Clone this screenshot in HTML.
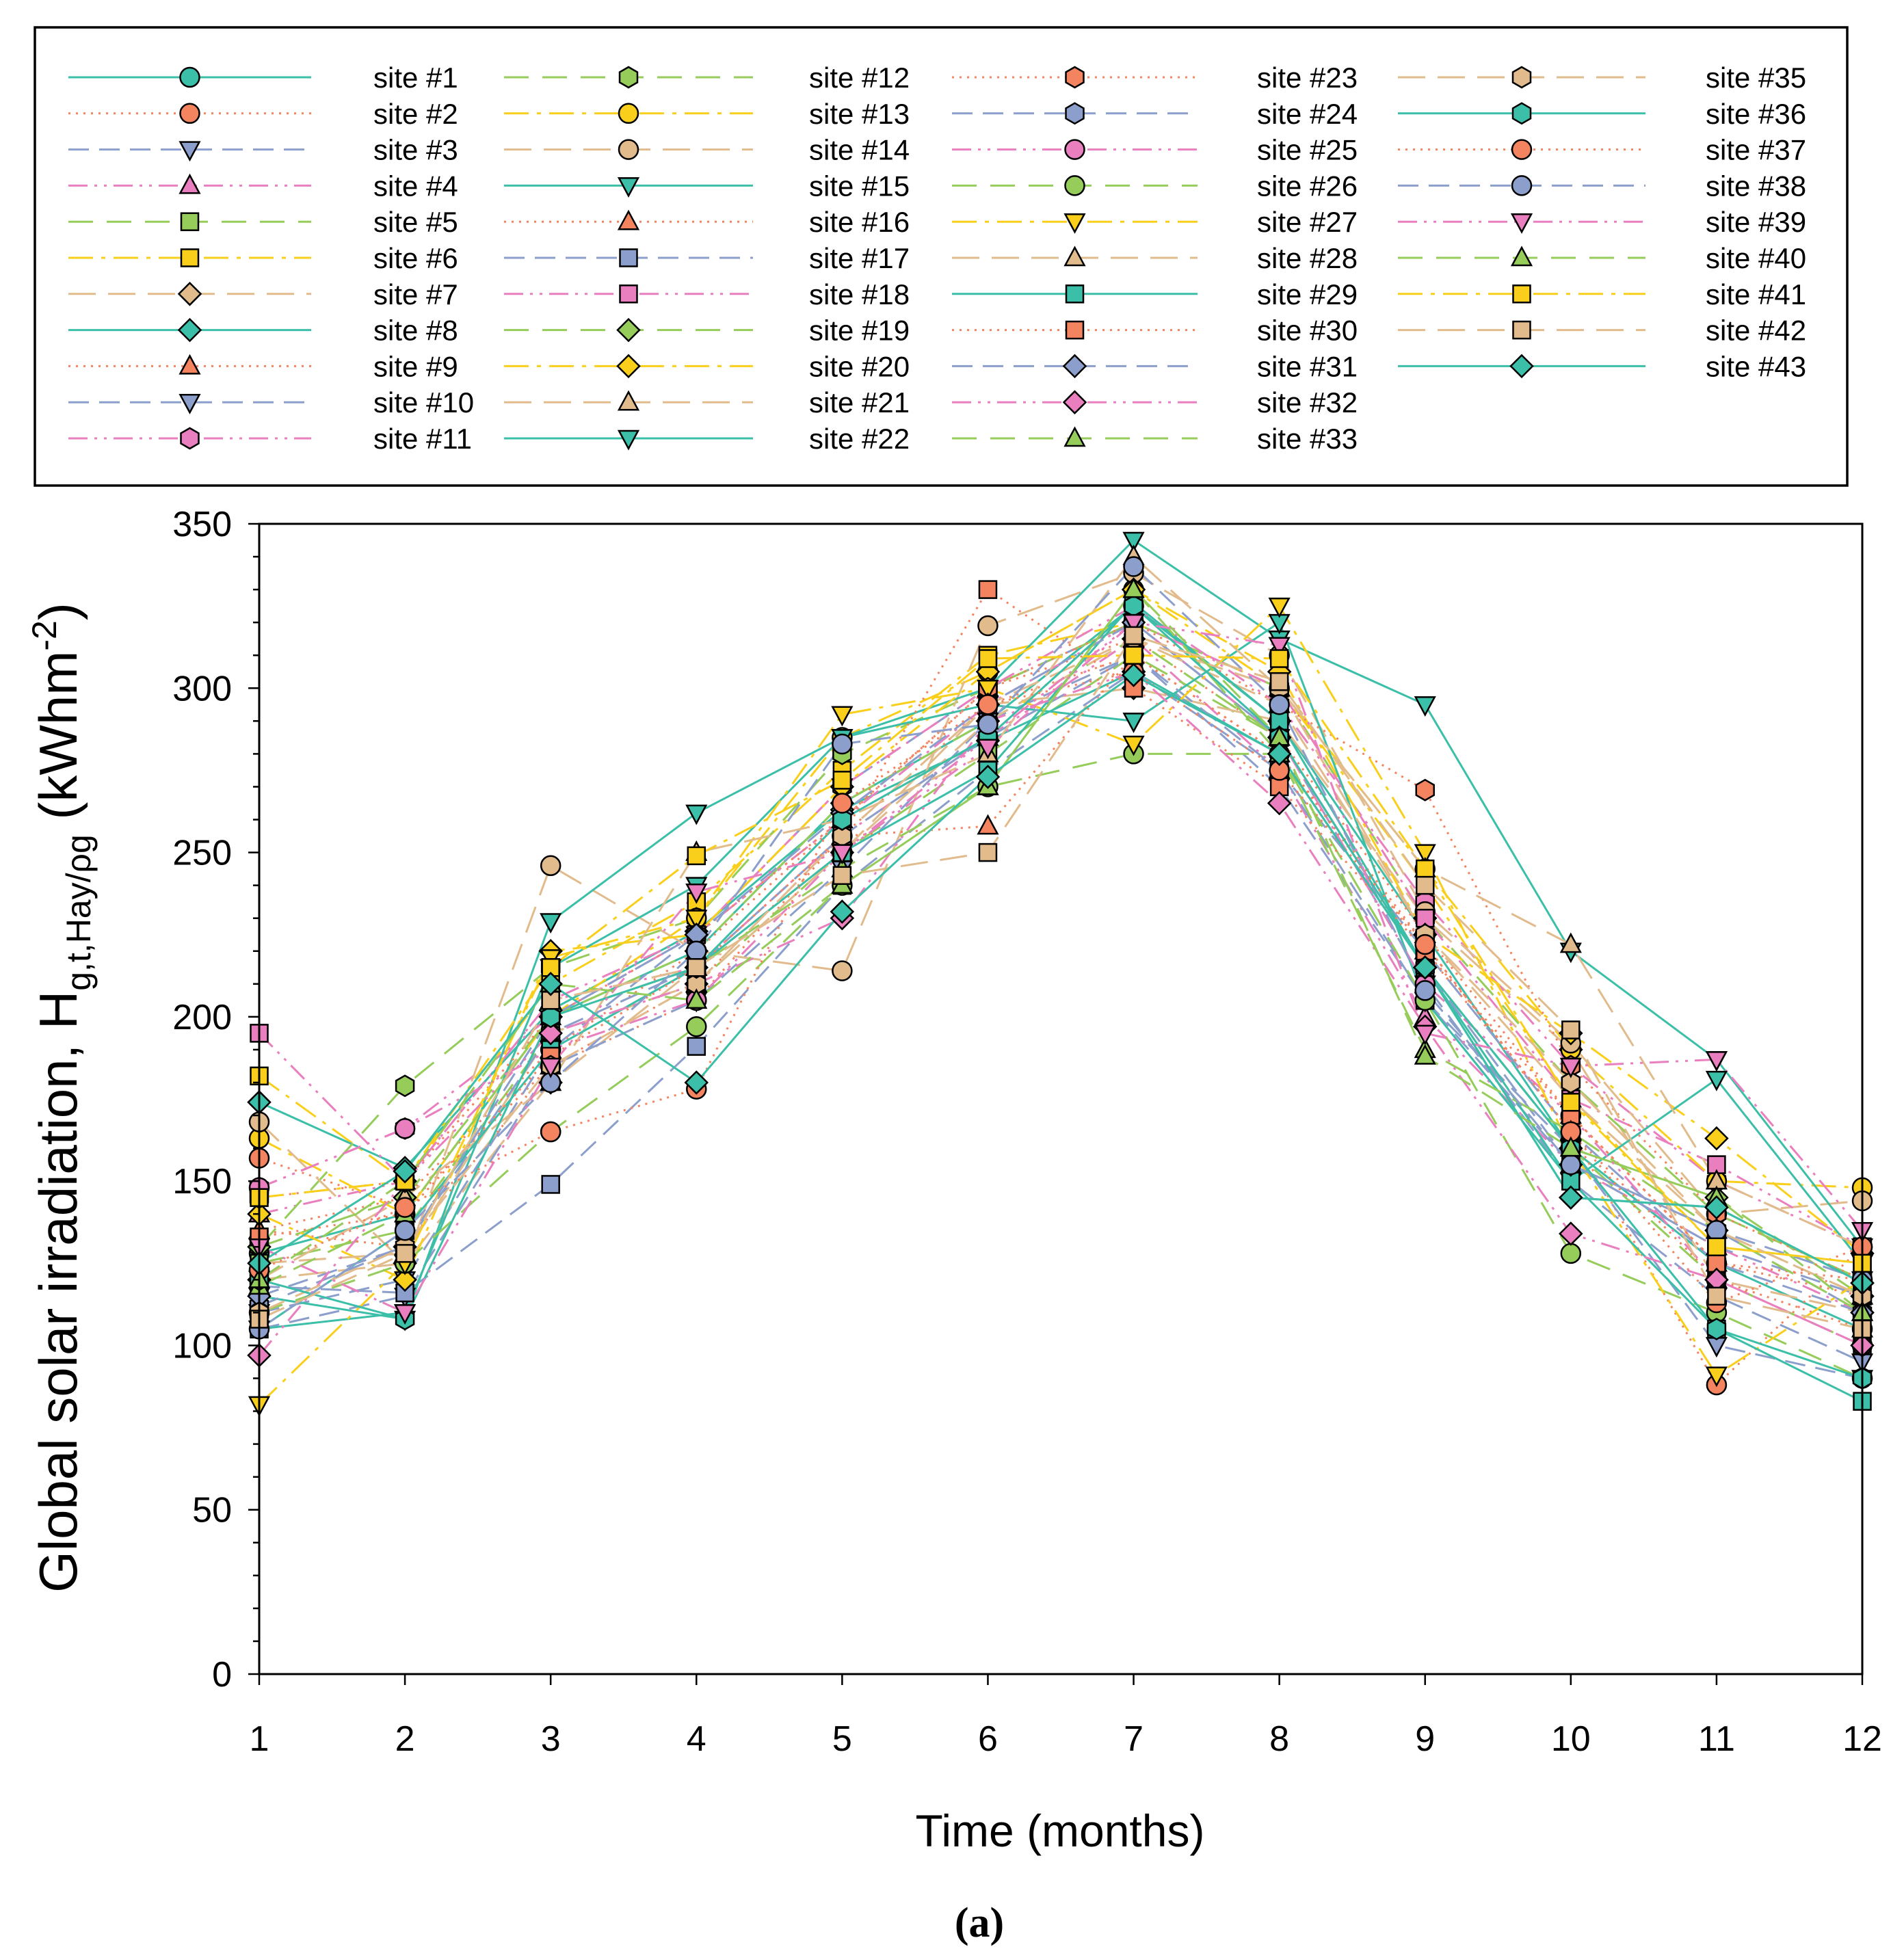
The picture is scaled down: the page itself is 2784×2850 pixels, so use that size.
<!DOCTYPE html>
<html><head><meta charset="utf-8">
<style>
html,body{margin:0;padding:0;background:#fff;}
svg{display:block;font-family:"Liberation Sans",sans-serif;}
</style></head>
<body>
<svg id="chart" width="2784" height="2850" viewBox="0 0 2784 2850" xmlns="http://www.w3.org/2000/svg">
<rect x="0" y="0" width="2784" height="2850" fill="#fff"/>
<rect x="51" y="40" width="2650" height="670" fill="none" stroke="#000" stroke-width="3.5"/>
<g id="legend"></g>
<g id="plot"></g>
<g id="axes"></g>
<text x="1550" y="2700" font-size="66" text-anchor="middle">Time (months)</text>
<text transform="translate(112,1605) rotate(-90)" font-size="78" text-anchor="middle">Global solar irradiation, H<tspan font-size="50" dy="20">g,t,Hay/ρg</tspan><tspan dy="-20"> (kWhm</tspan><tspan font-size="50" dy="-30">-2</tspan><tspan dy="30">)</tspan></text>
<text x="1432" y="2832" font-size="62" font-weight="bold" text-anchor="middle" font-family="Liberation Serif, serif">(a)</text>
</svg>
<script>
const months = [1,2,3,4,5,6,7,8,9,10,11,12];
const yTicks = [0,50,100,150,200,250,300,350];
const siteNames = [1,2,3,4,5,6,7,8,9,10,11,12,13,14,15,16,17,18,19,20,21,22,23,24,25,26,27,28,29,30,31,32,33,35,36,37,38,39,40,41,42,43];
const siteMarkers = ["circle","circle","tridown","triup","square","square","diamond","diamond","triup","tridown","hex","hex","circle","circle","tridown","triup","square","square","diamond","diamond","triup","tridown","hex","hex","circle","circle","tridown","triup","square","square","diamond","diamond","triup","hex","hex","circle","circle","tridown","triup","square","square","diamond"];
const s1=[128,140,200,220,265,290,325,290,225,160,125,105];
const s2=[157,142,185,205,255,295,310,280,222,165,88,130];
const s3=[110,120,190,225,270,300,320,285,210,150,115,95];
const s4=[140,150,205,215,255,285,315,275,200,155,130,110];
const s5=[125,135,195,210,250,280,310,285,215,160,120,100];
const s6=[182,150,210,235,275,310,320,300,240,175,130,125];
const s7=[120,125,180,215,250,295,300,290,230,190,120,110];
const s8=[174,154,202,226,263,284,305,280,215,145,142,119];
const s9=[135,145,190,220,260,300,315,285,225,170,125,115];
const s10=[105,115,185,205,245,290,310,270,205,160,100,90];
const s11=[148,166,200,225,270,300,325,295,235,185,150,130];
const s12=[130,179,215,230,280,300,320,300,230,180,140,120];
const s13=[163,140,200,230,285,305,330,300,245,190,150,148];
const s14=[168,125,246,220,214,319,335,310,232,192,140,144];
const s15=[115,108,229,262,285,300,345,315,295,220,187,130];
const s16=[135,130,185,210,255,258,310,280,220,165,120,105];
const s17=[118,116,149,191,240,275,305,275,205,155,130,115];
const s18=[195,150,205,225,260,295,320,300,230,175,155,130];
const s19=[130,145,200,220,265,290,315,285,215,160,145,115];
const s20=[140,120,220,225,270,305,330,305,225,195,163,128];
const s21=[125,128,195,210,250,290,315,295,225,175,135,115];
const s22=[105,110,215,240,285,295,290,320,205,150,181,125];
const s23=[145,150,200,225,260,300,320,295,269,185,140,120];
const s24=[112,130,195,215,255,285,310,275,220,165,125,110];
const s25=[148,166,190,205,250,285,320,285,210,170,120,100];
const s26=[110,125,165,197,240,270,280,280,205,128,110,90];
const s27=[82,125,218,230,292,300,283,325,250,160,91,120];
const s28=[120,145,180,250,260,280,340,300,245,222,150,130];
const s29=[105,135,190,215,250,275,326,290,215,150,105,83];
const s30=[133,140,188,215,255,330,300,270,220,170,125,120];
const s31=[115,130,200,225,262,295,320,285,215,155,135,110];
const s32=[97,150,195,210,230,290,305,265,197,134,120,100];
const s33=[118,140,200,215,245,270,330,280,190,165,135,110];
const s35=[110,130,185,210,255,295,315,300,225,180,135,115];
const s36=[120,108,200,215,260,285,325,285,215,160,105,90];
const s37=[123,142,165,178,265,295,305,275,222,165,113,130];
const s38=[105,135,180,220,283,289,337,295,208,155,135,120];
const s39=[130,110,185,238,250,282,320,313,195,185,187,135];
const s40=[120,150,210,205,240,270,330,285,188,160,145,110];
const s41=[145,150,215,249,272,309,310,309,245,174,130,125];
const s42=[108,128,205,215,243,250,316,302,240,196,115,105];
const s43=[125,153,210,180,232,273,304,280,215,145,142,119];
const seriesValues=[s1,s2,s3,s4,s5,s6,s7,s8,s9,s10,s11,s12,s13,s14,s15,s16,s17,s18,s19,s20,s21,s22,s23,s24,s25,s26,s27,s28,s29,s30,s31,s32,s33,s35,s36,s37,s38,s39,s40,s41,s42,s43];

const colors=["#3cbfa8","#f4845f","#8c9fcc","#ea7fbf","#95cc5a","#f9cf1c","#e2bb8c"];
const dashes=["none","3,8","30,15","28,10,4,10,4,10","36,20","36,12,6,12","40,18"];
const NS="http://www.w3.org/2000/svg";
const X0=379,X1=2723,Y0=2448,Y1=766;
const xs=m=>X0+(m-1)*(X1-X0)/11;
const ys=v=>Y0-v*(Y0-Y1)/350;
function mk(tag,attrs,parent){const e=document.createElementNS(NS,tag);for(const k in attrs)e.setAttribute(k,attrs[k]);parent.appendChild(e);return e;}
function marker(shape,x,y,fill,parent){
  const r=14;let e;
  const st={fill:fill,stroke:"#000","stroke-width":"2.5"};
  if(shape==="circle"){e=mk("circle",Object.assign({cx:x,cy:y,r:r},st),parent);}
  else if(shape==="square"){e=mk("rect",Object.assign({x:x-12.5,y:y-12.5,width:25,height:25},st),parent);}
  else{
    let pts;
    if(shape==="diamond")pts=[[0,-16],[16,0],[0,16],[-16,0]];
    else if(shape==="triup")pts=[[0,-15],[14,11],[-14,11]];
    else if(shape==="tridown")pts=[[-14,-11],[14,-11],[0,15]];
    else {pts=[];for(let k=0;k<6;k++){const a=Math.PI/6+k*Math.PI/3;pts.push([15*Math.cos(a),15*Math.sin(a)]);}}
    e=mk("polygon",Object.assign({points:pts.map(p=>(x+p[0])+","+(y+p[1])).join(" ")},st),parent);
  }
  return e;
}
const plot=document.getElementById("plot");
const axes=document.getElementById("axes");
const legend=document.getElementById("legend");
seriesValues.forEach((vals,i)=>{
  const sn=siteNames[i];const si=(sn-1)%7;
  const d=vals.map((v,j)=>(j?"L":"M")+xs(months[j])+","+ys(v)).join(" ");
  const p=mk("path",{d:d,fill:"none",stroke:colors[si],"stroke-width":"3","stroke-dasharray":dashes[si]},plot);
  
  
});
seriesValues.forEach((vals,i)=>{
  const sn=siteNames[i];const si=(sn-1)%7;
  vals.forEach((v,j)=>{
    const m=marker(siteMarkers[i],xs(months[j]),ys(v),colors[si],plot);
    
    
  });
});
const fr=mk("rect",{x:X0,y:Y1,width:X1-X0,height:Y0-Y1,fill:"none",stroke:"#000","stroke-width":"3"},axes);


for(let v=0;v<=350;v+=10){
  const major=v%50===0;
  mk("line",{x1:X0-(major?16:9),x2:X0,y1:ys(v),y2:ys(v),stroke:"#000","stroke-width":"2.5"},axes);
}
yTicks.forEach(v=>{
  const t=mk("text",{x:X0-40,y:ys(v)+18,"font-size":"52","text-anchor":"end"},axes);
  t.textContent=v;
  
  
});
months.forEach(m=>{
  mk("line",{x1:xs(m),x2:xs(m),y1:Y0,y2:Y0+16,stroke:"#000","stroke-width":"2.5"},axes);
  const t=mk("text",{x:xs(m),y:2560,"font-size":"52","text-anchor":"middle"},axes);
  t.textContent=m;
  
  
});
const colLine=[[100,455],[737,1101],[1392,1751],[2044,2406]];
const colLabel=[546,1183,1838,2494];
siteNames.forEach((sn,i)=>{
  const col=i<11?0:i<22?1:i<33?2:3;
  const row=col<3?i-col*11:i-33;
  const y=113+row*52.8;
  const si=(sn-1)%7;
  const g=mk("g",{},legend);
  
  
  mk("line",{x1:colLine[col][0],x2:colLine[col][1],y1:y,y2:y,stroke:colors[si],"stroke-width":"3","stroke-dasharray":dashes[si]},g);
  marker(siteMarkers[i],(colLine[col][0]+colLine[col][1])/2,y,colors[si],g);
  const t=mk("text",{x:colLabel[col],y:y+15,"font-size":"42"},g);
  t.textContent="site #"+sn;
});
</script>
</body></html>
